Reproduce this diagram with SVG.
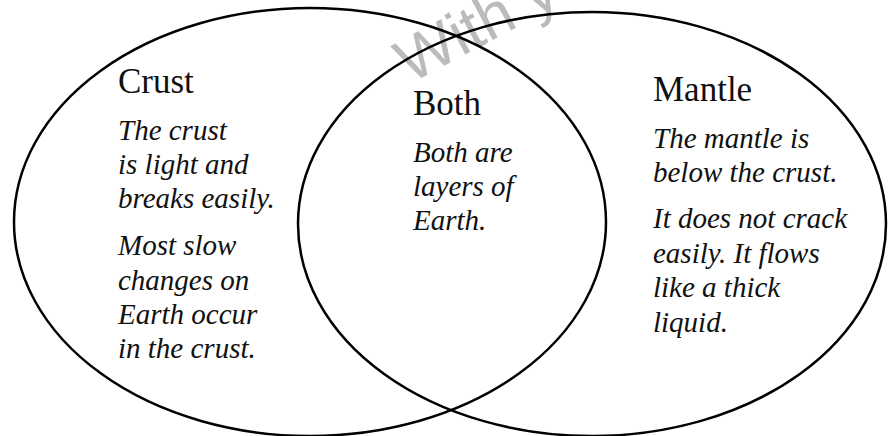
<svg xmlns="http://www.w3.org/2000/svg" width="888" height="436" viewBox="0 0 888 436">
<style>
.ring{fill:none;stroke:#000;stroke-width:2.5}
.head{font-family:"Liberation Serif","Times New Roman",serif;font-size:35px;fill:#111}
.body{font-family:"Liberation Serif","Times New Roman",serif;font-size:29px;font-style:italic;fill:#111}
.wm{font-family:"Liberation Sans",Arial,sans-serif;font-size:62px;fill:#bbbbbb}
</style>
<rect width="888" height="436" fill="#fff"/>
<text class="wm" transform="translate(410,84) rotate(-28)">With y</text>
<g id="crust-set">
<ellipse class="ring" cx="310" cy="222" rx="296" ry="214"/>
</g>
<g id="mantle-set">
<ellipse class="ring" cx="592" cy="224" rx="294" ry="212"/>
</g>
<g id="crust">
<text class="head" x="118" y="93">Crust</text>
<text class="body" x="118" y="140">The crust</text>
<text class="body" x="118" y="174">is light and</text>
<text class="body" x="118" y="208">breaks easily.</text>
<text class="body" x="118" y="255">Most slow</text>
<text class="body" x="118" y="290">changes on</text>
<text class="body" x="118" y="324">Earth occur</text>
<text class="body" x="118" y="358">in the crust.</text>
</g>
<g id="both">
<text class="head" x="413" y="115">Both</text>
<text class="body" x="413" y="162">Both are</text>
<text class="body" x="413" y="196">layers of</text>
<text class="body" x="413" y="230">Earth.</text>
</g>
<g id="mantle">
<text class="head" x="653" y="101">Mantle</text>
<text class="body" x="653" y="148">The mantle is</text>
<text class="body" x="653" y="182">below the crust.</text>
<text class="body" x="653" y="228">It does not crack</text>
<text class="body" x="653" y="263">easily. It flows</text>
<text class="body" x="653" y="297">like a thick</text>
<text class="body" x="653" y="332">liquid.</text>
</g>
</svg>
